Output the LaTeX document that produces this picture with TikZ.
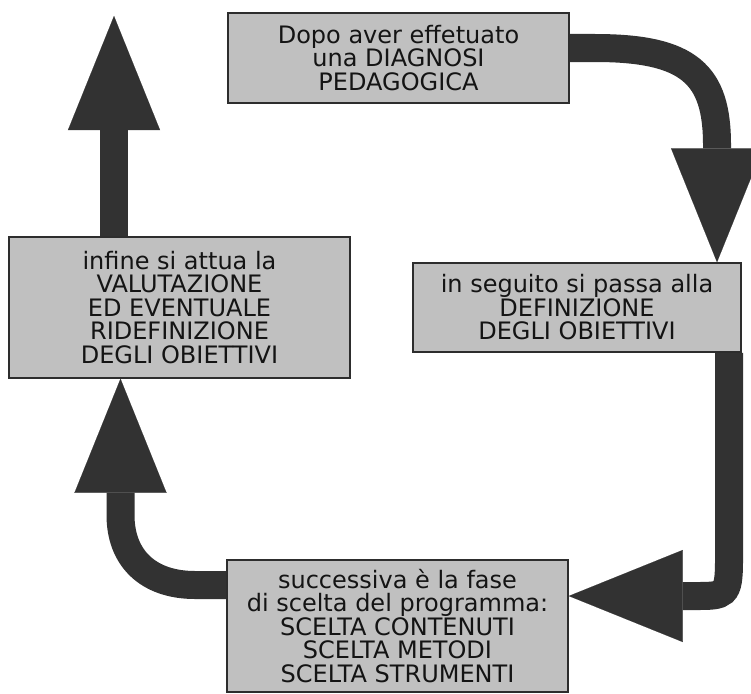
\documentclass[tikz,border=0pt]{standalone}
\usepackage{fontspec}
\setmainfont{DejaVu Sans}
\usetikzlibrary{arrows.meta,backgrounds}
\definecolor{boxfill}{RGB}{192,192,192}
\definecolor{boxline}{RGB}{45,45,45}
\definecolor{arrowc}{RGB}{50,50,50}
\definecolor{textc}{RGB}{20,20,20}
\tikzset{
  stagebox/.style={draw=boxline, fill=boxfill, line width=1.5pt, align=center,
    inner sep=0pt, text=textc, font=\fontsize{24}{23.5}\selectfont},
  conn/.style={draw=arrowc, line width=28pt,
    -{Triangle[length=114pt,width=92pt,line width=0.1pt]}}
}
\begin{document}
\begin{tikzpicture}[x=1pt,y=-1pt]
\useasboundingbox (0,0) rectangle (751,693);
\node[stagebox, minimum width=341pt, minimum height=90pt] (top) at (398.5,58)
  {Dopo aver effetuato\\una DIAGNOSI\\PEDAGOGICA};
\node[stagebox, minimum width=328pt, minimum height=89pt] (right) at (577,307.5)
  {in seguito si passa alla\\DEFINIZIONE\\DEGLI OBIETTIVI};
\node[stagebox, minimum width=341pt, minimum height=141pt] (left) at (179.5,307.5)
  {infine si attua la\\VALUTAZIONE\\ED EVENTUALE\\RIDEFINIZIONE\\DEGLI OBIETTIVI};
\node[stagebox, minimum width=341pt, minimum height=132pt] (bottom) at (397.5,626)
  {successiva è la fase\\di scelta del programma:\\SCELTA CONTENUTI\\SCELTA METODI\\SCELTA STRUMENTI};
\coordinate (t4) at (114,16);
\begin{scope}[on background layer]
  \fill[white] (0,0) rectangle (751,693);
  \draw[conn] ([yshift=10pt]top.east) -- (595,48)
     .. controls (690,48) and (717,75) .. (717,145) -- ([xshift=140pt]right.north);
  \draw[conn] ([xshift=152pt]right.south) -- (729,560)
     .. controls (729,596) and (725,596) .. (695,596) -- ([yshift=30pt]bottom.east);
  \draw[conn] ([yshift=41pt]bottom.west) -- (195,585)
     .. controls (148,585) and (120.5,558) .. (120.5,515) -- ([xshift=-59pt]left.south);
  \draw[conn] ([xshift=-65.5pt]left.north) -- (t4);
\end{scope}
\end{tikzpicture}
\end{document}
